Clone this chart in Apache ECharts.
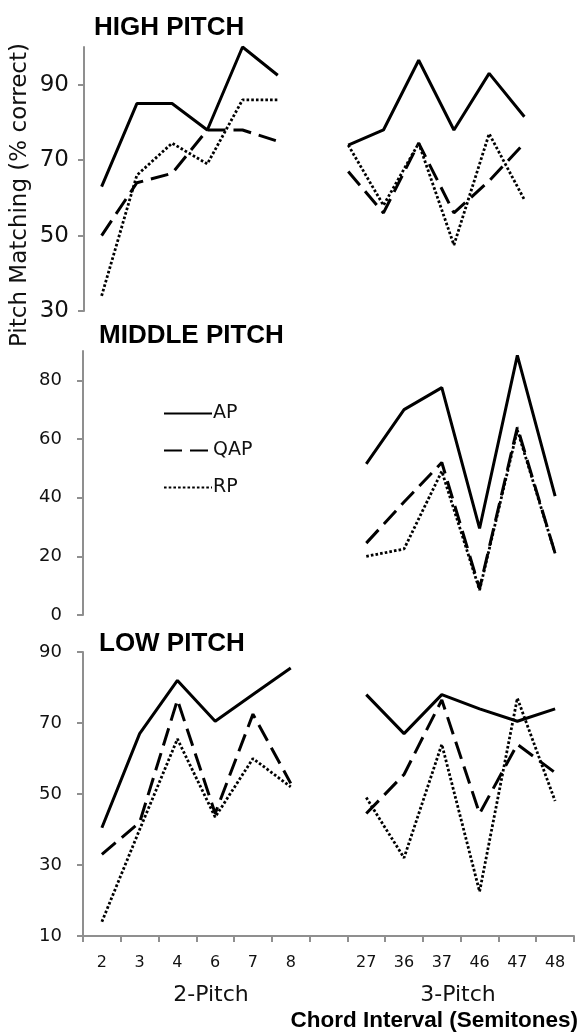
<!DOCTYPE html>
<html>
<head>
<meta charset="utf-8">
<script src="https://cdn.jsdelivr.net/npm/echarts@6/dist/echarts.min.js"></script>
<style>
  html, body { margin: 0; padding: 0; background: #fff; }
  #chart { width: 579px; height: 1033px; }
</style>
</head>
<body>
<div id="chart"></div>
<script>
// Chord intervals (semitones); the empty slot separates 2-pitch from 3-pitch chords
const twoPitchIntervals = ['2', '3', '4', '6', '7', '8'];
const threePitchIntervals = ['27', '36', '37', '46', '47', '48'];

// Pitch matching (% correct) — high pitch
const highAP2  = [63, 85, 85, 78, 100, 92.5];
const highAP3  = [74, 78, 96.5, 78, 93, 81.5];
const highQAP2 = [50, 64, 66.5, 78, 78, 75];
const highQAP3 = [67, 56, 74.5, 56, 64.5, 74.5];
const highRP2  = [34, 66, 74.5, 69, 86, 86];
const highRP3  = [74, 58, 74.5, 47.5, 77, 59.5];

// Middle pitch (only measured for 3-pitch chords)
const midAP3  = [51.5, 70, 77.5, 29.5, 88.5, 40.5];
const midQAP3 = [24.5, 38.5, 52, 9, 64, 21];
const midRP3  = [20, 22.5, 49, 8.5, 63, 21];

// Low pitch
const lowAP2  = [40.5, 67, 82, 70.5, 78, 85.5];
const lowAP3  = [78, 67, 78, 74, 70.5, 74];
const lowQAP2 = [33, 42, 76.5, 44.5, 72.5, 53];
const lowQAP3 = [44.5, 55.5, 76.5, 44.5, 64, 56];
const lowRP2  = [14, 40, 65.5, 43.5, 60, 52];
const lowRP3  = [49, 32, 64, 22.5, 77, 48];

// Y-axis tick labels per panel
const highTicks = [30, 50, 70, 90];
const midTicks = [0, 20, 40, 60, 80];
const lowTicks = [10, 30, 50, 70, 90];

const groupNames = ['2-Pitch', '3-Pitch'];
const panelTitles = ['HIGH PITCH', 'MIDDLE PITCH', 'LOW PITCH'];
const seriesNames = ['AP', 'QAP', 'RP'];

const categories = twoPitchIntervals.concat([''], threePitchIntervals);
const blank2 = twoPitchIntervals.map(() => null);
const join = (a, b) => (a || blank2).concat([null], b);

const SANS = '"DejaVu Sans", sans-serif';
const BOLD = '"Liberation Sans", Arial, sans-serif';
const AXIS_GREY = '#8f8f8f';

const styles = {
  AP:  { color: '#000', width: 3, type: 'solid' },
  QAP: { color: '#000', width: 3, type: [18, 8] },
  RP:  { color: '#000', width: 2.8, type: [2.6, 2.1] }
};

function lineSeries(name, idx, data) {
  return {
    type: 'line', name: name, xAxisIndex: idx, yAxisIndex: idx,
    data: data, symbol: 'none', showSymbol: false, connectNulls: false,
    lineStyle: styles[name], itemStyle: { color: '#000' },
    silent: true, animation: false
  };
}

function yAxisFor(idx, min, max, ticks, fontSize, margin) {
  return {
    type: 'value', gridIndex: idx, min: min, max: max,
    axisLine: { show: true, lineStyle: { color: AXIS_GREY, width: 2 } },
    axisTick: { show: true, length: 6, lineStyle: { color: AXIS_GREY, width: 2 }, customValues: ticks },
    axisLabel: { customValues: ticks, color: '#111', fontFamily: SANS, fontSize: fontSize, margin: margin },
    splitLine: { show: false }
  };
}

function xAxisFor(idx, visible) {
  return {
    type: 'category', gridIndex: idx, data: categories, boundaryGap: true,
    show: visible,
    axisLine: { show: visible, lineStyle: { color: AXIS_GREY, width: 2 } },
    axisTick: { show: visible, length: 6, lineStyle: { color: AXIS_GREY, width: 2 } },
    axisLabel: { show: visible, interval: 0, color: '#111', fontFamily: SANS, fontSize: 16, margin: 19 }
  };
}

const chart = echarts.init(document.getElementById('chart'), null, { renderer: 'canvas' });

chart.setOption({
  animation: false,
  backgroundColor: '#fff',
  grid: [
    { left: 84, top: 47, width: 458, height: 264 },
    { left: 83, top: 351, width: 491, height: 264 },
    { left: 83, top: 652, width: 491, height: 284 }
  ],
  xAxis: [xAxisFor(0, false), xAxisFor(1, false), xAxisFor(2, true)],
  yAxis: [
    yAxisFor(0, 30, 100, highTicks, 23, 15),
    yAxisFor(1, 0, 90, midTicks, 18, 21),
    yAxisFor(2, 10, 90, lowTicks, 18, 21)
  ],
  legend: {
    data: seriesNames,
    orient: 'vertical',
    left: 158, top: 399,
    itemWidth: 48, itemHeight: 14, itemGap: 18,
    selectedMode: false,
    itemStyle: { opacity: 0 },
    textStyle: { color: '#111', fontFamily: SANS, fontSize: 19, padding: [0, 0, 0, -4] }
  },
  series: [
    lineSeries('AP', 0, join(highAP2, highAP3)),
    lineSeries('QAP', 0, join(highQAP2, highQAP3)),
    lineSeries('RP', 0, join(highRP2, highRP3)),
    lineSeries('AP', 1, join(null, midAP3)),
    lineSeries('QAP', 1, join(null, midQAP3)),
    lineSeries('RP', 1, join(null, midRP3)),
    lineSeries('AP', 2, join(lowAP2, lowAP3)),
    lineSeries('QAP', 2, join(lowQAP2, lowQAP3)),
    lineSeries('RP', 2, join(lowRP2, lowRP3))
  ],
  graphic: [
    { type: 'text', left: 94, top: 15, style: { text: panelTitles[0], font: 'bold 26px ' + BOLD, fill: '#000' } },
    { type: 'text', left: 99, top: 323, style: { text: panelTitles[1], font: 'bold 26px ' + BOLD, fill: '#000' } },
    { type: 'text', left: 99, top: 631, style: { text: panelTitles[2], font: 'bold 26px ' + BOLD, fill: '#000' } },
    { type: 'text', x: 20, y: 195, rotation: Math.PI / 2,
      style: { text: 'Pitch Matching (% correct)', font: '23px ' + SANS, fill: '#111', align: 'center', verticalAlign: 'middle' } },
    { type: 'text', x: 211, y: 995,
      style: { text: groupNames[0], font: '22px ' + SANS, fill: '#111', align: 'center', verticalAlign: 'middle' } },
    { type: 'text', x: 458, y: 995,
      style: { text: groupNames[1], font: '22px ' + SANS, fill: '#111', align: 'center', verticalAlign: 'middle' } },
    { type: 'text', x: 578, y: 1021,
      style: { text: 'Chord Interval (Semitones)', font: 'bold 22.5px ' + BOLD, fill: '#000', align: 'right', verticalAlign: 'middle' } }
  ]
});
</script>
</body>
</html>
